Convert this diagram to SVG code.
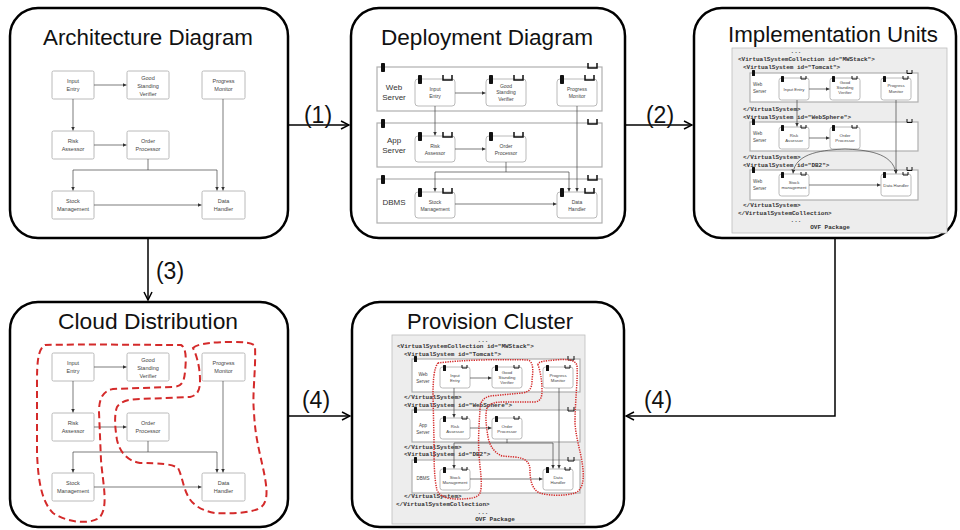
<svg xmlns="http://www.w3.org/2000/svg" width="960" height="530" viewBox="0 0 960 530">
<defs>
<style>
.panel{fill:#fff;stroke:#000;stroke-width:2.5}
.title{font-family:"Liberation Sans",Arial,sans-serif;font-size:22px;fill:#111;text-anchor:middle}
.num{font-family:"Liberation Sans",Arial,sans-serif;font-size:23px;fill:#111;text-anchor:middle}
.conn{stroke:#000;stroke-width:1.5;fill:none}
.n{fill:#fff;stroke:#a8a8a8;stroke-width:0.8}
.nl{font-family:"Liberation Sans",Arial,sans-serif;font-size:5.5px;fill:#444;text-anchor:middle}
.nd{font-size:5px}
.ns{font-size:4.3px}
.e{stroke:#444;stroke-width:0.7;fill:none;marker-end:url(#tri)}
.row{fill:#fff;stroke:#b0b0b0;stroke-width:1.2}
.blk{fill:#111}
.u{fill:none;stroke:#111;stroke-width:1.5}
.us{fill:none;stroke:#111;stroke-width:1}
.pkg{fill:#ededed;stroke:#bdbdbd;stroke-width:0.8}
.code{font-family:"Liberation Mono",monospace;font-weight:bold;font-size:6px;fill:#333}
.rl{font-family:"Liberation Sans",Arial,sans-serif;font-size:8px;fill:#333;text-anchor:middle}
.rls{font-family:"Liberation Sans",Arial,sans-serif;font-size:4.5px;fill:#444}
.red{fill:none;stroke:#d42a2a;stroke-width:2;stroke-dasharray:7 4}
.redd{fill:none;stroke:#d42a2a;stroke-width:1.5;stroke-dasharray:1.3 1.1}
</style>
<marker id="open" viewBox="0 0 10 10" refX="9" refY="5" markerWidth="10" markerHeight="10" markerUnits="userSpaceOnUse" orient="auto"><path d="M1,1 L9,5 L1,9" fill="none" stroke="#000" stroke-width="1.5"/></marker>
<marker id="tri" viewBox="0 0 6 6" refX="6" refY="3" markerWidth="4" markerHeight="4" markerUnits="userSpaceOnUse" orient="auto"><path d="M0,0 L6,3 L0,6z" fill="#333"/></marker>
</defs>
<rect width="960" height="530" fill="#fff"/>

<!-- Panel 1: Architecture Diagram -->
<g id="architecture">
<rect class="panel" x="10" y="8" width="278" height="230" rx="28"/>
<text class="title" x="148" y="45" textLength="210" lengthAdjust="spacingAndGlyphs">Architecture Diagram</text>
<g id="a-ie"><rect class="n" x="52" y="71" width="42" height="28" rx="1.5"/><text class="nl" x="73" y="83">Input</text><text class="nl" x="73" y="91">Entry</text></g>
<g id="a-gsv"><rect class="n" x="127" y="71" width="42" height="28" rx="1.5"/><text class="nl" x="148" y="80">Good</text><text class="nl" x="148" y="88">Standing</text><text class="nl" x="148" y="96">Verifier</text></g>
<g id="a-pm"><rect class="n" x="202" y="71" width="43" height="28" rx="1.5"/><text class="nl" x="223.5" y="83">Progress</text><text class="nl" x="223.5" y="91">Monitor</text></g>
<g id="a-ra"><rect class="n" x="52" y="131" width="42" height="28" rx="1.5"/><text class="nl" x="73" y="143">Risk</text><text class="nl" x="73" y="151">Assessor</text></g>
<g id="a-op"><rect class="n" x="127" y="131" width="42" height="28" rx="1.5"/><text class="nl" x="148" y="143">Order</text><text class="nl" x="148" y="151">Processor</text></g>
<g id="a-sm"><rect class="n" x="52" y="191" width="42" height="28" rx="1.5"/><text class="nl" x="73" y="203">Stock</text><text class="nl" x="73" y="211">Management</text></g>
<g id="a-dh"><rect class="n" x="202" y="191" width="43" height="28" rx="1.5"/><text class="nl" x="223.5" y="203">Data</text><text class="nl" x="223.5" y="211">Handler</text></g>
<g id="a-edges">
<path class="e" d="M94,85 H126.5"/>
<path class="e" d="M73,99 V130.5"/>
<path class="e" d="M94,145 H126.5"/>
<path class="e" d="M148,159 V170 H73 V190.5"/>
<path class="e" d="M148,170 H217 V190.5"/>
<path class="e" d="M223,99 V190.5"/>
<path class="e" d="M94,205 H201.5"/>
</g>
</g>

<!-- Panel 2: Deployment Diagram -->
<g id="deployment">
<rect class="panel" x="351" y="8" width="274" height="230" rx="28"/>
<text class="title" x="487" y="45" textLength="212" lengthAdjust="spacingAndGlyphs">Deployment Diagram</text>
<g id="d-row-web"><rect class="row" x="377" y="67" width="225" height="44"/><rect class="blk" x="381" y="63" width="4" height="9" rx="0.8"/><path class="u" d="M588,63 V68 H597 V63"/><text class="rl" x="394" y="90">Web</text><text class="rl" x="394" y="100">Server</text></g>
<g id="d-row-app"><rect class="row" x="377" y="123" width="225" height="44"/><rect class="blk" x="381" y="119" width="4" height="9" rx="0.8"/><path class="u" d="M588,119 V124 H597 V119"/><text class="rl" x="394" y="143">App</text><text class="rl" x="394" y="153">Server</text></g>
<g id="d-row-dbms"><rect class="row" x="377" y="179" width="225" height="44"/><rect class="blk" x="381" y="175" width="4" height="9" rx="0.8"/><path class="u" d="M588,175 V180 H597 V175"/><text class="rl" x="394" y="205">DBMS</text></g>
<g id="d-ie"><rect class="n" x="415" y="79" width="40" height="27" rx="3"/><rect class="blk" x="418" y="75" width="4" height="9" rx="0.8"/><path class="u" d="M443,75 V80 H452 V75"/><text class="nl nd" x="435" y="91">Input</text><text class="nl nd" x="435" y="98">Entry</text></g>
<g id="d-gsv"><rect class="n" x="486" y="79" width="40" height="27" rx="3"/><rect class="blk" x="489" y="75" width="4" height="9" rx="0.8"/><path class="u" d="M514,75 V80 H523 V75"/><text class="nl nd" x="506" y="87.5">Good</text><text class="nl nd" x="506" y="94">Standing</text><text class="nl nd" x="506" y="100.5">Verifier</text></g>
<g id="d-pm"><rect class="n" x="557" y="79" width="40" height="27" rx="3"/><rect class="blk" x="560" y="75" width="4" height="9" rx="0.8"/><path class="u" d="M585,75 V80 H594 V75"/><text class="nl nd" x="577" y="91">Progress</text><text class="nl nd" x="577" y="98">Monitor</text></g>
<g id="d-ra"><rect class="n" x="415" y="136" width="40" height="26" rx="3"/><rect class="blk" x="418" y="132" width="4" height="9" rx="0.8"/><path class="u" d="M443,132 V137 H452 V132"/><text class="nl nd" x="435" y="147.5">Risk</text><text class="nl nd" x="435" y="154.5">Assessor</text></g>
<g id="d-op"><rect class="n" x="486" y="136" width="40" height="26" rx="3"/><rect class="blk" x="489" y="132" width="4" height="9" rx="0.8"/><path class="u" d="M514,132 V137 H523 V132"/><text class="nl nd" x="506" y="147.5">Order</text><text class="nl nd" x="506" y="154.5">Processor</text></g>
<g id="d-sm"><rect class="n" x="415" y="192" width="40" height="26" rx="3"/><rect class="blk" x="418" y="188" width="4" height="9" rx="0.8"/><path class="u" d="M443,188 V193 H452 V188"/><text class="nl nd" x="435" y="203.5">Stock</text><text class="nl nd" x="435" y="210.5">Management</text></g>
<g id="d-dh"><rect class="n" x="557" y="192" width="40" height="26" rx="3"/><rect class="blk" x="560" y="188" width="4" height="9" rx="0.8"/><path class="u" d="M585,188 V193 H594 V188"/><text class="nl nd" x="577" y="203.5">Data</text><text class="nl nd" x="577" y="210.5">Handler</text></g>
<g id="d-edges">
<path class="e" d="M455,93 H485.5"/>
<path class="e" d="M435,106 V135.5"/>
<path class="e" d="M455,149 H485.5"/>
<path class="e" d="M506,162 V172 H435 V191.5"/>
<path class="e" d="M506,172 H569 V191.5"/>
<path class="e" d="M577,106 V191.5"/>
<path class="e" d="M455,204 H556.5"/>
</g>
</g>

<!-- Panel 3: Implementation Units -->
<g id="implementation">
<rect class="panel" x="694" y="8" width="262" height="230" rx="28"/>
<text class="title" x="833" y="42" textLength="210" lengthAdjust="spacingAndGlyphs">Implementation Units</text>
<rect class="pkg" x="732" y="48" width="215" height="185"/>
<text class="code" x="796" y="53" text-anchor="middle">...</text>
<text class="code" x="738" y="61">&lt;VirtualSystemCollection id="MWStack"&gt;</text>
<text class="code" x="743" y="69">&lt;VirtualSystem id="Tomcat"&gt;</text>
<text class="code" x="743" y="111">&lt;/VirtualSystem&gt;</text>
<text class="code" x="743" y="119">&lt;VirtualSystem id="WebSphere"&gt;</text>
<text class="code" x="743" y="159">&lt;/VirtualSystem&gt;</text>
<text class="code" x="743" y="167">&lt;VirtualSystem id="DB2"&gt;</text>
<text class="code" x="743" y="207">&lt;/VirtualSystem&gt;</text>
<text class="code" x="738" y="215">&lt;/VirtualSystemCollection&gt;</text>
<text class="code" x="796" y="222" text-anchor="middle">...</text>
<text class="code" x="830" y="229" text-anchor="middle">OVF Package</text>
<g id="i-row1"><rect class="row" x="750" y="73" width="168" height="29"/><rect class="blk" x="752" y="70" width="3" height="6" rx="0.5"/><path class="us" d="M907,70 V73.5 H912 V70"/><text class="rls" x="753" y="86">Web</text><text class="rls" x="753" y="93">Server</text></g>
<g id="i-row2"><rect class="row" x="750" y="122" width="168" height="29"/><rect class="blk" x="752" y="119" width="3" height="6" rx="0.5"/><path class="us" d="M907,119 V122.5 H912 V119"/><text class="rls" x="753" y="135">Web</text><text class="rls" x="753" y="142">Server</text></g>
<g id="i-row3"><rect class="row" x="750" y="170" width="168" height="30"/><rect class="blk" x="752" y="167" width="3" height="6" rx="0.5"/><path class="us" d="M907,167 V170.5 H912 V167"/><text class="rls" x="753" y="183">Web</text><text class="rls" x="753" y="190">Server</text></g>
<g id="i-ie"><rect class="n" x="779" y="78" width="30" height="22" rx="2.5"/><rect class="blk" x="781" y="76" width="3" height="6" rx="0.5"/><path class="us" d="M801,76 V79 H806 V76"/><text class="nl ns" x="794" y="90.5">Input Entry</text></g>
<g id="i-gsv"><rect class="n" x="830" y="78" width="30" height="22" rx="2.5"/><rect class="blk" x="832" y="76" width="3" height="6" rx="0.5"/><path class="us" d="M852,76 V79 H857 V76"/><text class="nl ns" x="845" y="84">Good</text><text class="nl ns" x="845" y="89">Standing</text><text class="nl ns" x="845" y="94">Verifier</text></g>
<g id="i-pm"><rect class="n" x="881" y="78" width="30" height="22" rx="2.5"/><rect class="blk" x="883" y="76" width="3" height="6" rx="0.5"/><path class="us" d="M903,76 V79 H908 V76"/><text class="nl ns" x="896" y="87">Progress</text><text class="nl ns" x="896" y="92.5">Monitor</text></g>
<g id="i-ra"><rect class="n" x="779" y="127" width="30" height="22" rx="2.5"/><rect class="blk" x="781" y="125" width="3" height="6" rx="0.5"/><path class="us" d="M801,125 V128 H806 V125"/><text class="nl ns" x="794" y="136.5">Risk</text><text class="nl ns" x="794" y="142">Assessor</text></g>
<g id="i-op"><rect class="n" x="830" y="127" width="30" height="22" rx="2.5"/><rect class="blk" x="832" y="125" width="3" height="6" rx="0.5"/><path class="us" d="M852,125 V128 H857 V125"/><text class="nl ns" x="845" y="136.5">Order</text><text class="nl ns" x="845" y="142">Processor</text></g>
<g id="i-sm"><rect class="n" x="779" y="174" width="30" height="22" rx="2.5"/><rect class="blk" x="781" y="172" width="3" height="6" rx="0.5"/><path class="us" d="M801,172 V175 H806 V172"/><text class="nl ns" x="794" y="183.5">Stock</text><text class="nl ns" x="794" y="189">management</text></g>
<g id="i-dh"><rect class="n" x="881" y="174" width="30" height="22" rx="2.5"/><rect class="blk" x="883" y="172" width="3" height="6" rx="0.5"/><path class="us" d="M903,172 V175 H908 V172"/><text class="nl ns" x="896" y="187">Data Handler</text></g>
<g id="i-edges">
<path class="e" d="M809,89 H829.5"/>
<path class="e" d="M797,100 V126.5"/>
<path class="e" d="M809,138 H829.5"/>
<path class="e" d="M845,149 C825,150 795,152 793,173.5"/>
<path class="e" d="M845,149 C865,150 893,152 896,173.5"/>
<path class="e" d="M896,100 V173.5"/>
<path class="e" d="M809,185 H880.5"/>
</g>
</g>

<!-- Panel 4: Cloud Distribution -->
<g id="cloud">
<rect class="panel" x="10" y="302" width="278" height="225" rx="28"/>
<text class="title" x="148" y="329" textLength="180" lengthAdjust="spacingAndGlyphs">Cloud Distribution</text>
<g transform="translate(0,282)">
<g id="c-ie"><rect class="n" x="52" y="71" width="42" height="28" rx="1.5"/><text class="nl" x="73" y="83">Input</text><text class="nl" x="73" y="91">Entry</text></g>
<g id="c-gsv"><rect class="n" x="127" y="71" width="42" height="28" rx="1.5"/><text class="nl" x="148" y="80">Good</text><text class="nl" x="148" y="88">Standing</text><text class="nl" x="148" y="96">Verifier</text></g>
<g id="c-pm"><rect class="n" x="202" y="71" width="43" height="28" rx="1.5"/><text class="nl" x="223.5" y="83">Progress</text><text class="nl" x="223.5" y="91">Monitor</text></g>
<g id="c-ra"><rect class="n" x="52" y="131" width="42" height="28" rx="1.5"/><text class="nl" x="73" y="143">Risk</text><text class="nl" x="73" y="151">Assessor</text></g>
<g id="c-op"><rect class="n" x="127" y="131" width="42" height="28" rx="1.5"/><text class="nl" x="148" y="143">Order</text><text class="nl" x="148" y="151">Processor</text></g>
<g id="c-sm"><rect class="n" x="52" y="191" width="42" height="28" rx="1.5"/><text class="nl" x="73" y="203">Stock</text><text class="nl" x="73" y="211">Management</text></g>
<g id="c-dh"><rect class="n" x="202" y="191" width="43" height="28" rx="1.5"/><text class="nl" x="223.5" y="203">Data</text><text class="nl" x="223.5" y="211">Handler</text></g>
<g id="c-edges">
<path class="e" d="M94,85 H126.5"/>
<path class="e" d="M73,99 V130.5"/>
<path class="e" d="M94,145 H126.5"/>
<path class="e" d="M148,159 V170 H73 V190.5"/>
<path class="e" d="M148,170 H217 V190.5"/>
<path class="e" d="M223,99 V190.5"/>
<path class="e" d="M94,205 H201.5"/>
</g>
</g>
<g id="c-clusters">
<path class="red" d="M45,345 C80,344 150,345 181,345 C187,348 186,362 185,372 C184,382 182,387 172,387 L113,389 C103,391 99,398 99,412 L101,460 C103,485 109,508 99,518 C88,525 66,522 53,513 C42,502 38,482 37,452 L37,382 C37,362 38,349 45,345 Z"/>
<path class="red" d="M193,348 C198,343 215,342 233,342 C245,342 253,343 255,346 C256,370 252,395 254,412 C255,440 262,460 265,478 C268,495 267,505 258,509 C248,513 230,514 215,513 C203,511 194,506 189,498 C183,488 182,475 178,468 C172,464 160,463 140,463 C128,461 120,453 117,440 C115,428 114,415 117,407 C121,401 130,399 140,399 L190,397 C198,395 200,390 200,380 C200,368 197,356 193,348 Z"/>
</g>
</g>

<!-- Panel 5: Provision Cluster -->
<g id="provision">
<rect class="panel" x="352" y="302" width="272" height="225" rx="28"/>
<text class="title" x="490" y="329" textLength="166" lengthAdjust="spacingAndGlyphs">Provision Cluster</text>
<rect class="pkg" x="392" y="335" width="193" height="189"/>
<text class="code" x="483" y="342" text-anchor="middle">...</text>
<text class="code" x="397" y="348">&lt;VirtualSystemCollection id="MWStack"&gt;</text>
<text class="code" x="404" y="356">&lt;VirtualSystem id="Tomcat"&gt;</text>
<text class="code" x="404" y="399">&lt;/VirtualSystem&gt;</text>
<text class="code" x="404" y="407">&lt;VirtualSystem id="WebSphere"&gt;</text>
<text class="code" x="404" y="449">&lt;/VirtualSystem&gt;</text>
<text class="code" x="404" y="456">&lt;VirtualSystem id="DB2"&gt;</text>
<text class="code" x="404" y="498">&lt;/VirtualSystem&gt;</text>
<text class="code" x="396" y="506">&lt;/VirtualSystemCollection&gt;</text>
<text class="code" x="483" y="514" text-anchor="middle">...</text>
<text class="code" x="495" y="521" text-anchor="middle">OVF Package</text>
<g id="p-row1"><rect class="row" x="412" y="359" width="168" height="33"/><rect class="blk" x="414" y="356" width="3" height="6" rx="0.5"/><path class="us" d="M568,356 V360 H574 V356"/><text class="rls" x="423" y="376" text-anchor="middle">Web</text><text class="rls" x="423" y="383" text-anchor="middle">Server</text></g>
<g id="p-row2"><rect class="row" x="412" y="410" width="168" height="32"/><rect class="blk" x="414" y="407" width="3" height="6" rx="0.5"/><path class="us" d="M568,407 V411 H574 V407"/><text class="rls" x="423" y="427" text-anchor="middle">App</text><text class="rls" x="423" y="434" text-anchor="middle">Server</text></g>
<g id="p-row3"><rect class="row" x="412" y="460" width="168" height="33"/><rect class="blk" x="414" y="457" width="3" height="6" rx="0.5"/><path class="us" d="M568,457 V461 H574 V457"/><text class="rls" x="423" y="480" text-anchor="middle">DBMS</text></g>
<g id="p-ie"><rect class="n" x="440" y="367" width="30" height="21" rx="2.5"/><rect class="blk" x="443" y="365" width="3" height="6" rx="0.5"/><path class="us" d="M462,365 V368 H467 V365"/><text class="nl ns" x="455" y="376.5">Input</text><text class="nl ns" x="455" y="382">Entry</text></g>
<g id="p-gsv"><rect class="n" x="492" y="367" width="30" height="21" rx="2.5"/><rect class="blk" x="495" y="365" width="3" height="6" rx="0.5"/><path class="us" d="M514,365 V368 H519 V365"/><text class="nl ns" x="507" y="373.5">Good</text><text class="nl ns" x="507" y="378.5">Standing</text><text class="nl ns" x="507" y="383.5">Verifier</text></g>
<g id="p-pm"><rect class="n" x="543" y="367" width="30" height="21" rx="2.5"/><rect class="blk" x="546" y="365" width="3" height="6" rx="0.5"/><path class="us" d="M565,365 V368 H570 V365"/><text class="nl ns" x="558" y="376.5">Progress</text><text class="nl ns" x="558" y="382">Monitor</text></g>
<g id="p-ra"><rect class="n" x="440" y="418" width="30" height="21" rx="2.5"/><rect class="blk" x="443" y="416" width="3" height="6" rx="0.5"/><path class="us" d="M462,416 V419 H467 V416"/><text class="nl ns" x="455" y="427.5">Risk</text><text class="nl ns" x="455" y="433">Assessor</text></g>
<g id="p-op"><rect class="n" x="492" y="418" width="30" height="21" rx="2.5"/><rect class="blk" x="495" y="416" width="3" height="6" rx="0.5"/><path class="us" d="M514,416 V419 H519 V416"/><text class="nl ns" x="507" y="427.5">Order</text><text class="nl ns" x="507" y="433">Processor</text></g>
<g id="p-sm"><rect class="n" x="440" y="469" width="30" height="21" rx="2.5"/><rect class="blk" x="443" y="467" width="3" height="6" rx="0.5"/><path class="us" d="M462,467 V470 H467 V467"/><text class="nl ns" x="455" y="478.5">Stock</text><text class="nl ns" x="455" y="484">Management</text></g>
<g id="p-dh"><rect class="n" x="543" y="469" width="30" height="21" rx="2.5"/><rect class="blk" x="546" y="467" width="3" height="6" rx="0.5"/><path class="us" d="M565,467 V470 H570 V467"/><text class="nl ns" x="558" y="478.5">Data</text><text class="nl ns" x="558" y="484">Handler</text></g>
<g id="p-edges">
<path class="e" d="M470,378 H491.5"/>
<path class="e" d="M454,388 V417.5"/>
<path class="e" d="M470,428 H491.5"/>
<path class="e" d="M507,439 V443 H454 V468.5"/>
<path class="e" d="M507,443 H553 V468.5"/>
<path class="e" d="M559,388 V468.5"/>
<path class="e" d="M470,479 H542.5"/>
</g>
<g id="p-clusters">
<path class="redd" d="M438,363 C460,360 500,359 528,360 C534,362 533,372 532,380 C532,388 530,392 522,393 L490,396 C483,398 480,402 480,410 C479,425 478,440 479,455 C480,470 483,485 480,493 C478,498 470,499 458,499 C448,499 440,497 437,490 C434,478 434,460 434,440 L433,395 C433,380 434,368 438,363 Z"/>
<path class="redd" d="M538,365 C538,361 545,361 555,360 C565,359 576,359 577,366 C578,380 575,400 575,423 C576,440 582,455 583,470 C584,482 582,490 575,493 C565,496 550,496 540,493 C532,490 530,480 530,470 C530,462 525,458 515,457 L502,456 C495,453 490,447 488,437 C486,425 485,415 487,408 C490,403 495,402 505,402 L535,402 C541,401 542,397 542,390 C542,380 540,370 538,365 Z"/>
</g>
</g>

<!-- Connectors between panels -->
<g id="connectors">
<path class="conn" d="M288,125 H349" marker-end="url(#open)"/>
<path class="conn" d="M625,125 H692" marker-end="url(#open)"/>
<path class="conn" d="M148,238 V300" marker-end="url(#open)"/>
<path class="conn" d="M288,416 H350" marker-end="url(#open)"/>
<path class="conn" d="M835,238 V416 H626" marker-end="url(#open)"/>
<text class="num" x="318" y="123">(1)</text>
<text class="num" x="660" y="123">(2)</text>
<text class="num" x="170" y="279">(3)</text>
<text class="num" x="316" y="408">(4)</text>
<text class="num" x="658" y="408">(4)</text>
</g>
</svg>
